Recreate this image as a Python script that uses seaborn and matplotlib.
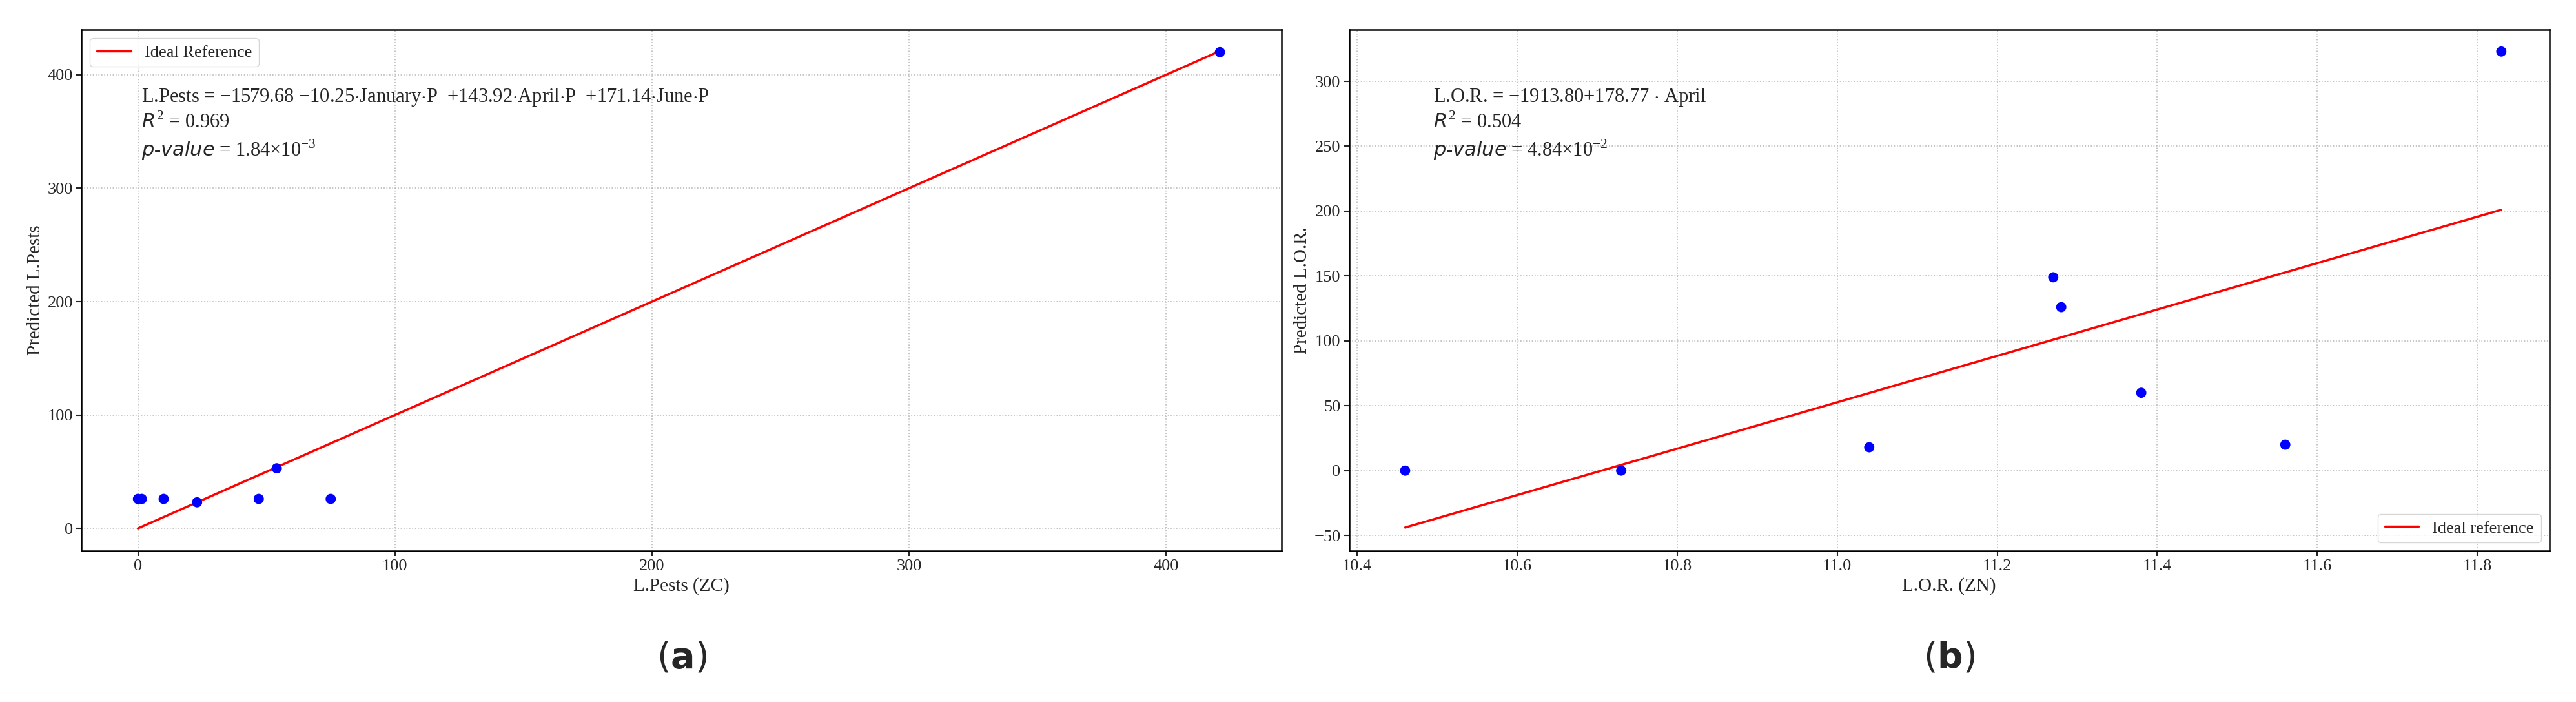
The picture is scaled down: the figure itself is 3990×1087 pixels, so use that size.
import numpy as np
import pandas as pd
import matplotlib
matplotlib.use('Agg')
import matplotlib.pyplot as plt
import seaborn as sns

sns.set_style('white')
plt.rcParams['font.family'] = ['Liberation Serif', 'DejaVu Serif']
plt.rcParams['mathtext.fontset'] = 'custom'
plt.rcParams['mathtext.rm'] = 'Liberation Serif'
plt.rcParams['mathtext.it'] = 'DejaVu Sans:italic'
plt.rcParams['mathtext.bf'] = 'DejaVu Sans:bold'

# (a) L.Pests
pests_actual = [0, 1.5, 10, 23, 47, 54, 75, 421]
pests_pred = [26, 26, 26, 23, 26, 53, 26, 420]
pests_ideal_x = [0, 421]

# (b) L.O.R.
lor_actual = [10.46, 10.73, 11.04, 11.27, 11.28, 11.38, 11.56, 11.83]
lor_pred = [0, 0, 18, 149, 126, 60, 20, 323]
lor_intercept, lor_slope = -1913.80, 178.77

fig = plt.figure(figsize=(39.91, 10.87), dpi=100)
ax1 = fig.add_axes([0.0316, 0.215, 0.4658, 0.743])
ax2 = fig.add_axes([0.5236, 0.215, 0.4658, 0.743])

FS = 19

# panel a
ax1.plot(pests_ideal_x, pests_ideal_x, color='red', lw=2.5, label='Ideal Reference')
sns.scatterplot(x=pests_actual, y=pests_pred, ax=ax1, color='blue', s=130, edgecolor='none', zorder=3)
ax1.set_xlim(-22, 445)
ax1.set_ylim(-20, 440)
ax1.set_xticks([0, 100, 200, 300, 400])
ax1.set_yticks([0, 100, 200, 300, 400])
ax1.set_xlabel('L.Pests (ZC)', fontsize=FS + 2)
ax1.set_ylabel('Predicted L.Pests', fontsize=FS + 2)
ax1.legend(loc='upper left', fontsize=FS)
ax1.text(0.05, 0.89,
         r'L.Pests = $-$1579.68 $-$10.25$\cdot$January$\cdot$P  +143.92$\cdot$April$\cdot$P  +171.14$\cdot$June$\cdot$P'
         '\n' r'$\mathit{R}^2$ = 0.969' '\n' r'$\mathit{p}$-$\mathit{value}$ = 1.84$\times$10$^{-3}$',
         transform=ax1.transAxes, fontsize=FS + 3, va='top', linespacing=1.3)

# panel b
lor_x = np.array(lor_actual)
ax2.plot(lor_x, lor_intercept + lor_slope * lor_x, color='red', lw=2.5, label='Ideal reference')
sns.scatterplot(x=lor_actual, y=lor_pred, ax=ax2, color='blue', s=130, edgecolor='none', zorder=3)
ax2.set_xlim(10.39, 11.89)
ax2.set_ylim(-62, 340)
ax2.set_yticks([-50, 0, 50, 100, 150, 200, 250, 300])
ax2.set_xlabel('L.O.R. (ZN)', fontsize=FS + 2)
ax2.set_ylabel('Predicted L.O.R.', fontsize=FS + 2)
ax2.legend(loc='lower right', fontsize=FS)
ax2.text(0.07, 0.89,
         r'L.O.R. = $-$1913.80+178.77 $\cdot$ April'
         '\n' r'$\mathit{R}^2$ = 0.504' '\n' r'$\mathit{p}$-$\mathit{value}$ = 4.84$\times$10$^{-2}$',
         transform=ax2.transAxes, fontsize=FS + 3, va='top', linespacing=1.3)

for ax in (ax1, ax2):
    ax.grid(True, linestyle=':', color='#bbbbbb', lw=1.2)
    ax.tick_params(labelsize=FS, length=6, width=1.5, direction='out', left=True, bottom=True)
    for s in ax.spines.values():
        s.set_linewidth(1.8)
        s.set_color('black')

fig.text(0.2645, 0.063, r'($\mathbf{a}$)', fontsize=40, ha='center', va='center', family='DejaVu Sans')
fig.text(0.7565, 0.063, r'($\mathbf{b}$)', fontsize=40, ha='center', va='center', family='DejaVu Sans')

fig.savefig('out.png', dpi=100)
